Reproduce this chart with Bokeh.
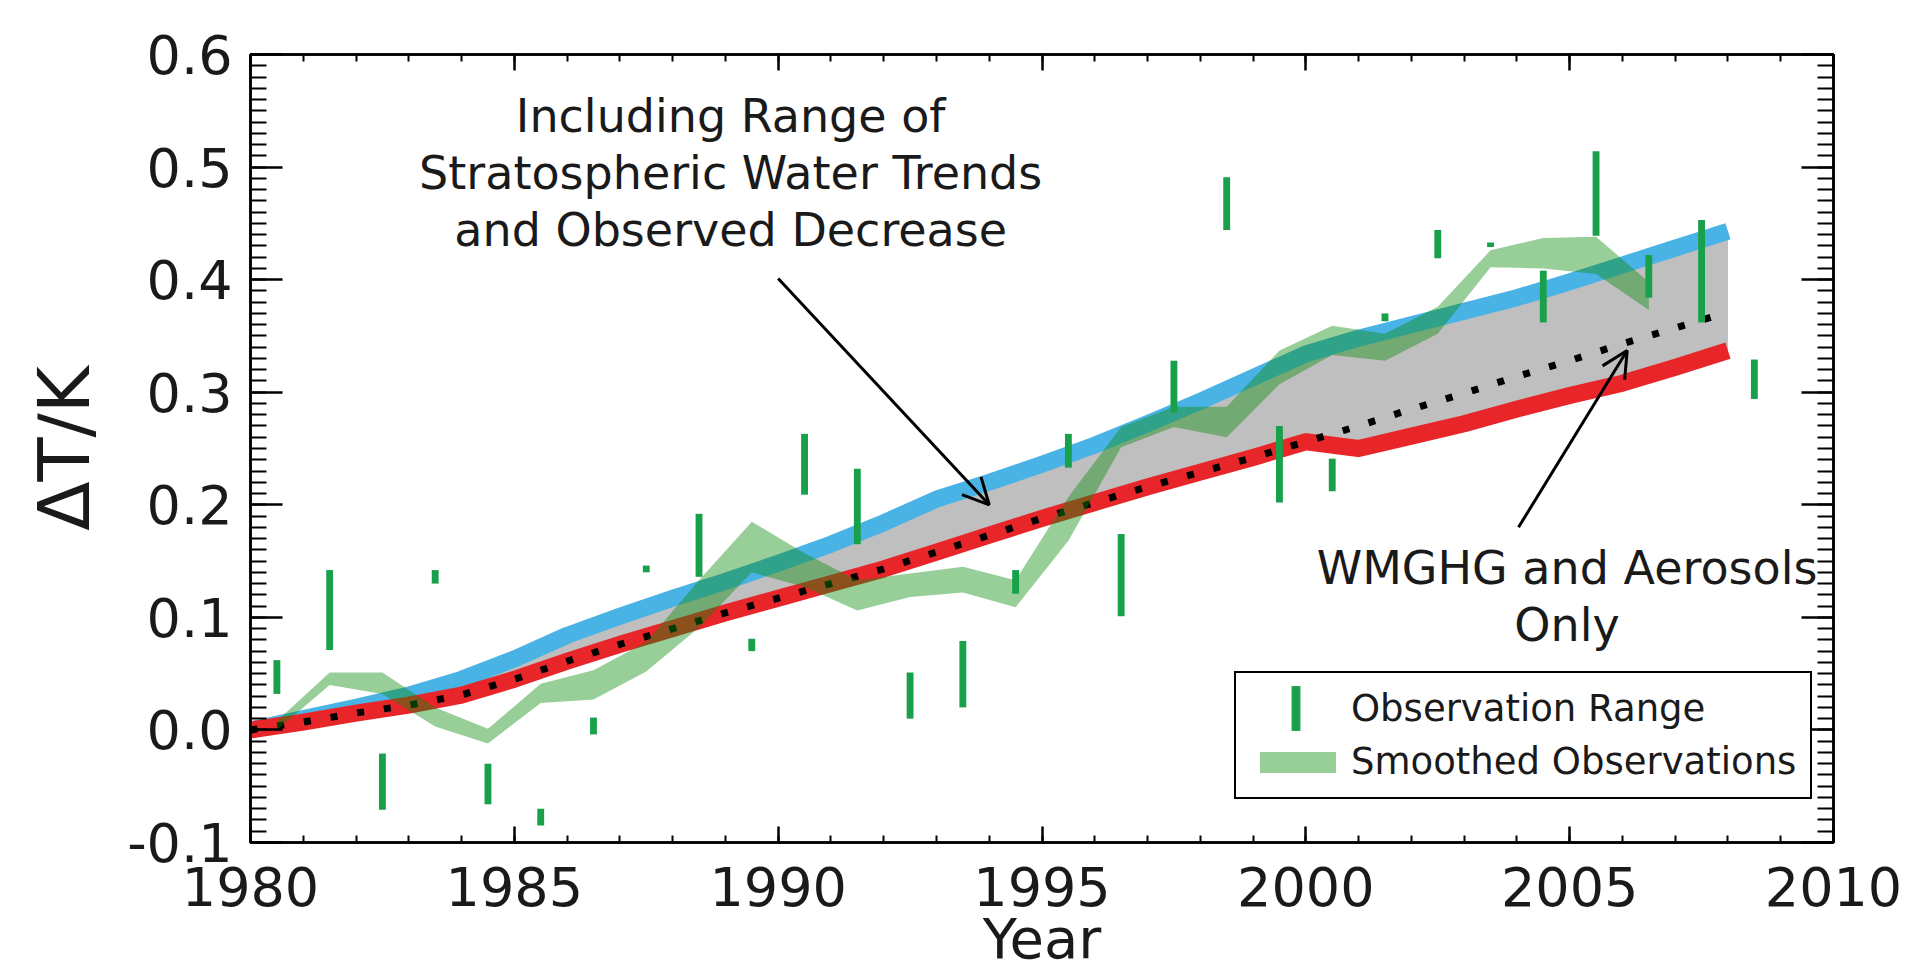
from bokeh.plotting import figure
from bokeh.models import (Range1d, FixedTicker, LinearAxis, NumeralTickFormatter,
                          CustomJSTickFormatter, Label, Arrow, OpenHead, Legend, LegendItem)
from bokeh.embed import file_html
from bokeh.resources import INLINE

# ---------------- data ----------------
model_years = [1980, 1981, 1982, 1983, 1984, 1985, 1986, 1987, 1988, 1989,
               1990, 1991, 1992, 1993, 1994, 1995, 1996, 1997, 1998, 1999,
               2000, 2001, 2002, 2003, 2004, 2005, 2006, 2007, 2008]
upper_trend = [0.000, 0.010, 0.020, 0.031, 0.045, 0.063, 0.084, 0.101, 0.117, 0.132,
               0.148, 0.165, 0.184, 0.205, 0.220, 0.236, 0.253, 0.272, 0.292, 0.313,
               0.334, 0.348, 0.360, 0.372, 0.384, 0.398, 0.413, 0.428, 0.443]
lower_trend = [0.000, 0.007, 0.015, 0.022, 0.031, 0.045, 0.061, 0.076, 0.090, 0.104,
               0.117, 0.130, 0.143, 0.158, 0.173, 0.188, 0.202, 0.216, 0.229, 0.242,
               0.256, 0.250, 0.261, 0.272, 0.285, 0.297, 0.308, 0.322, 0.337]
wmghg_only = [0.000, 0.007, 0.015, 0.022, 0.031, 0.045, 0.061, 0.076, 0.090, 0.104,
              0.117, 0.130, 0.143, 0.158, 0.173, 0.188, 0.202, 0.216, 0.229, 0.242,
              0.256, 0.270, 0.285, 0.299, 0.314, 0.328, 0.343, 0.357, 0.371]

obs_years = [1980.5, 1981.5, 1982.5, 1983.5, 1984.5, 1985.5, 1986.5, 1987.5, 1988.5, 1989.5,
             1990.5, 1991.5, 1992.5, 1993.5, 1994.5, 1995.5, 1996.5, 1997.5, 1998.5, 1999.5,
             2000.5, 2001.5, 2002.5, 2003.5, 2004.5, 2005.5, 2006.5, 2007.5, 2008.5]
obs_low = [0.032, 0.071, -0.071, 0.130, -0.066, -0.085, -0.004, 0.140, 0.136, 0.070,
           0.209, 0.165, 0.010, 0.020, 0.121, 0.233, 0.101, 0.282, 0.444, 0.202,
           0.212, 0.363, 0.419, 0.429, 0.362, 0.439, 0.384, 0.362, 0.294]
obs_high = [0.062, 0.142, -0.021, 0.142, -0.030, -0.070, 0.011, 0.146, 0.192, 0.081,
            0.263, 0.232, 0.051, 0.079, 0.142, 0.263, 0.174, 0.328, 0.491, 0.270,
            0.241, 0.370, 0.444, 0.433, 0.408, 0.514, 0.422, 0.453, 0.329]

smooth_years = [1980.5, 1981.5, 1982.5, 1983.5, 1984.5, 1985.5, 1986.5, 1987.5, 1988.5,
                1989.5, 1990.5, 1991.5, 1992.5, 1993.5, 1994.5, 1995.5, 1996.5, 1997.5,
                1998.5, 1999.5, 2000.5, 2001.5, 2002.5, 2003.5, 2004.5, 2005.5, 2006.5]
smooth_low = [0.000, 0.040, 0.032, 0.003, -0.012, 0.024, 0.027, 0.052, 0.091,
              0.140, 0.127, 0.106, 0.118, 0.122, 0.109, 0.168, 0.251, 0.269,
              0.260, 0.307, 0.333, 0.328, 0.352, 0.411, 0.410, 0.405, 0.373]
smooth_high = [0.008, 0.051, 0.051, 0.020, 0.001, 0.041, 0.053, 0.078, 0.133,
               0.185, 0.157, 0.133, 0.139, 0.145, 0.133, 0.207, 0.269, 0.287,
               0.287, 0.337, 0.359, 0.352, 0.376, 0.426, 0.437, 0.438, 0.398]

x_tick_labels = ["1980", "1985", "1990", "1995", "2000", "2005", "2010"]
y_tick_labels = ["-0.1", "0.0", "0.1", "0.2", "0.3", "0.4", "0.5", "0.6"]

note_upper = "Including Range of\nStratospheric Water Trends\nand Observed Decrease"
note_lower = "WMGHG and Aerosols\nOnly"
note_upper_pos = (1989.1, 0.5695)
note_lower_pos = (2004.95, 0.168)
arrow_upper = (1990.0, 0.401, 1994.0, 0.200)
arrow_lower = (2004.03, 0.180, 2006.09, 0.337)

# ---------------- style ----------------
FONT = "DejaVu Sans"
BLUE = "#4ab3e5"
RED = "#e8262a"
GREY = "#bfbfbf"
BAR_GREEN = "#18a04b"
BAND_GREEN = "#0a8a0a"
BAND_ALPHA = 0.42
TXT = "#1a1a1a"

p = figure(width=1913, height=974,
           x_range=Range1d(1980, 2010), y_range=Range1d(-0.1, 0.6),
           output_backend="svg", toolbar_location=None,
           min_border_left=250, min_border_right=80,
           min_border_top=54, min_border_bottom=132,
           x_axis_label="Year", y_axis_label="\u0394T/K")
p.grid.visible = False
p.background_fill_color = "white"
p.border_fill_color = "white"
p.outline_line_color = "black"
p.outline_line_width = 2.5

# ---------------- marks ----------------
p.varea(x=model_years, y1=lower_trend, y2=upper_trend, fill_color=GREY)
p.line(model_years, upper_trend, line_color=BLUE, line_width=17, line_cap="butt", line_join="round")
p.line(model_years, lower_trend, line_color=RED, line_width=17, line_cap="butt", line_join="round")
p.line(model_years, wmghg_only, line_color="black", line_width=7, line_dash="7 20", line_cap="butt")
band = p.varea(x=smooth_years, y1=smooth_low, y2=smooth_high,
               fill_color=BAND_GREEN, fill_alpha=BAND_ALPHA)
bars = p.vbar(x=obs_years, bottom=obs_low, top=obs_high, width=0.13,
              fill_color=BAR_GREEN, line_color=None)
leg_blank = p.line(x=[], y=[], line_alpha=0)

# ---------------- axes ----------------
x_major = [int(s) for s in x_tick_labels]
y_major = [float(s) for s in y_tick_labels]
x_minor = list(range(x_major[0], x_major[-1] + 1))
y_minor = [round(y_major[0] + 0.01 * i, 2) for i in range(71)]

xaxis = p.xaxis[0]
yaxis = p.yaxis[0]
xaxis.ticker = FixedTicker(ticks=x_major, minor_ticks=x_minor)
yaxis.ticker = FixedTicker(ticks=y_major, minor_ticks=y_minor)
yaxis.formatter = NumeralTickFormatter(format="0.0")

top_axis = LinearAxis(ticker=FixedTicker(ticks=x_major, minor_ticks=x_minor),
                      formatter=CustomJSTickFormatter(code="return ''"))
right_axis = LinearAxis(ticker=FixedTicker(ticks=y_major, minor_ticks=y_minor),
                        formatter=CustomJSTickFormatter(code="return ''"))
p.add_layout(top_axis, "above")
p.add_layout(right_axis, "right")

for ax in [xaxis, top_axis]:
    ax.major_tick_in = 16
    ax.major_tick_out = 0
    ax.minor_tick_in = 7
    ax.minor_tick_out = 0
for ax in [yaxis, right_axis]:
    ax.major_tick_in = 32
    ax.major_tick_out = 0
    ax.minor_tick_in = 16
    ax.minor_tick_out = 0
for ax in [xaxis, yaxis, top_axis, right_axis]:
    ax.axis_line_color = "black"
    ax.axis_line_width = 2.5
    ax.major_tick_line_color = "black"
    ax.major_tick_line_width = 2.5
    ax.minor_tick_line_color = "black"
    ax.minor_tick_line_width = 2
    ax.major_label_text_font = FONT
    ax.major_label_text_color = TXT
    ax.axis_label_text_font = FONT
    ax.axis_label_text_font_style = "normal"
    ax.axis_label_text_color = TXT
for ax in [top_axis, right_axis]:
    ax.major_label_text_font_size = "2px"
    ax.major_label_standoff = 0

xaxis.major_label_text_font_size = "54px"
xaxis.major_label_standoff = 24
xaxis.axis_label_text_font_size = "56px"
xaxis.axis_label_standoff = -3
yaxis.major_label_text_font_size = "54px"
yaxis.major_label_standoff = 18
yaxis.axis_label_text_font_size = "72px"
yaxis.axis_label_standoff = 18

# ---------------- annotations ----------------
p.add_layout(Label(x=note_upper_pos[0], y=note_upper_pos[1], text=note_upper,
                   text_align="center", text_baseline="top", text_font=FONT,
                   text_font_size="46px", text_line_height=1.06, text_color=TXT))
p.add_layout(Label(x=note_lower_pos[0], y=note_lower_pos[1], text=note_lower,
                   text_align="center", text_baseline="top", text_font=FONT,
                   text_font_size="46px", text_line_height=1.06, text_color=TXT))
p.add_layout(Arrow(end=OpenHead(size=26, line_width=3, line_color="black"),
                   x_start=arrow_upper[0], y_start=arrow_upper[1],
                   x_end=arrow_upper[2], y_end=arrow_upper[3],
                   line_width=3, line_color="black"))
p.add_layout(Arrow(end=OpenHead(size=26, line_width=3, line_color="black"),
                   x_start=arrow_lower[0], y_start=arrow_lower[1],
                   x_end=arrow_lower[2], y_end=arrow_lower[3],
                   line_width=3, line_color="black"))

# ---------------- legend ----------------
legend_box = Legend(items=[LegendItem(label="Observation Range", renderers=[leg_blank]),
                           LegendItem(label="Smoothed Observations", renderers=[band])],
                    location=(984, 43), glyph_width=95, glyph_height=26, label_standoff=6,
                    padding=14, margin=0, spacing=10,
                    border_line_color="black", border_line_width=2.5, border_line_alpha=1,
                    background_fill_color="white", background_fill_alpha=1,
                    label_text_font=FONT, label_text_font_size="37px", label_text_color=TXT)
legend_bar = Legend(items=[LegendItem(label=" ", renderers=[bars])],
                    location=(1040, 106), glyph_width=11, glyph_height=56, label_standoff=0,
                    padding=0, margin=0, spacing=0, border_line_color=None,
                    background_fill_alpha=0, label_text_font=FONT, label_text_font_size="10px",
                    label_text_color=TXT)
p.add_layout(legend_box)
p.add_layout(legend_bar)

open("out.html", "w").write(file_html(p, INLINE))
